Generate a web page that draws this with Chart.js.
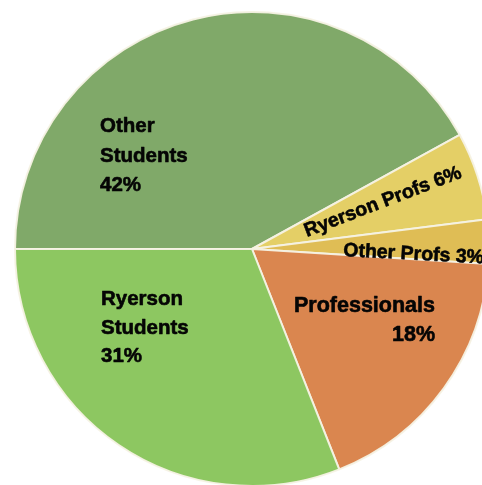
<!DOCTYPE html>
<html>
<head>
<meta charset="utf-8">
<script src="https://cdn.jsdelivr.net/npm/chart.js@4.4.1/dist/chart.umd.min.js"></script>
<style>
  html, body { margin: 0; padding: 0; background: #fff; overflow: hidden; width: 482px; height: 485px; }
  #wrap { position: absolute; left: 14px; top: 11px; width: 476px; height: 476px; }
</style>
</head>
<body>
<div id="wrap"><canvas id="pieChart"></canvas></div>
<script>
// data, clockwise from the left horizontal
var categories = ['Other Students', 'Ryerson Profs', 'Other Profs', 'Professionals', 'Ryerson Students'];
var shares = [42, 6, 3, 18, 31];
var sliceColors = ['#80a969', '#e4cf66', '#dfbd55', '#da864f', '#8dc761'];

// where each label sits, relative to the pie centre
var labelLayout = [
    { dx: -152, dy: -117, gap: 29.5, align: 'left', size: 20.5, rot: 0, split: 'words' },
    { dx: 55, dy: -12, gap: 0, align: 'left', size: 19.5, rot: -21, split: 'none' },
    { dx: 91, dy: 7, gap: 0, align: 'left', size: 19.5, rot: 3, split: 'none' },
    { dx: 183, dy: 63, gap: 28.5, align: 'right', size: 21.5, rot: 0, split: 'words' },
    { dx: -151, dy: 56, gap: 28.5, align: 'left', size: 20.5, rot: 0, split: 'words' }
];

var sliceLabels = {
    id: 'sliceLabels',
    afterDatasetsDraw: function (chart) {
        var ctx = chart.ctx;
        var arc = chart.getDatasetMeta(0).data[0];
        var cx = arc.x, cy = arc.y;
        ctx.save();
        ctx.fillStyle = '#050505';
        ctx.strokeStyle = '#050505';
        ctx.lineWidth = 0.6;
        ctx.lineJoin = 'round';
        ctx.textBaseline = 'alphabetic';
        categories.forEach(function (name, i) {
            var lay = labelLayout[i];
            var pct = shares[i] + '%';
            var lines = lay.split === 'words' ? name.split(' ').concat([pct]) : [name + ' ' + pct];
            ctx.save();
            ctx.translate(cx + lay.dx, cy + lay.dy);
            ctx.rotate(lay.rot * Math.PI / 180);
            ctx.font = 'bold ' + lay.size + 'px "Liberation Sans", Arial, sans-serif';
            ctx.textAlign = lay.align;
            lines.forEach(function (t, k) {
                ctx.fillText(t, 0, k * lay.gap);
                ctx.strokeText(t, 0, k * lay.gap);
            });
            ctx.restore();
        });
        ctx.restore();
    }
};

var PieData = {
    labels: categories,
    datasets: [{
        data: shares,
        backgroundColor: sliceColors,
        borderColor: 'rgba(246,242,228,0.95)',
        borderWidth: 2
    }]
};

var PieConfig = {
    type: 'pie',
    data: PieData,
    options: {
        responsive: true,
        maintainAspectRatio: false,
        animation: false,
        rotation: 270,
        layout: { padding: 0 },
        plugins: {
            legend: { display: false },
            tooltip: { enabled: false }
        }
    },
    plugins: [sliceLabels]
};

var pieChart = new Chart(document.getElementById('pieChart'), PieConfig);
</script>
</body>
</html>
